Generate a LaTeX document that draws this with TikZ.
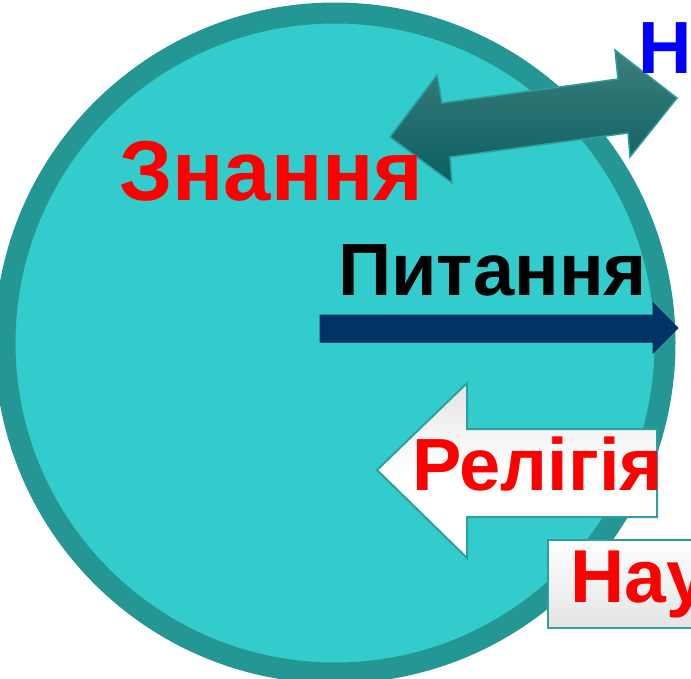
\documentclass[tikz,border=0pt]{standalone}
\usepackage{fontspec}
\setmainfont{Liberation Sans}
\definecolor{disc}{HTML}{33CCCC}
\definecolor{ring}{HTML}{249693}
\definecolor{arrowedge}{HTML}{2E9E9E}
\definecolor{darktealtop}{HTML}{3C7E7E}
\definecolor{darktealbot}{HTML}{0C5F5F}
\definecolor{navy}{HTML}{003366}
\definecolor{navyedge}{HTML}{0A2A55}
\definecolor{boxgray}{HTML}{E4E4E4}
\tikzset{
  lbl/.style={inner sep=0pt, anchor=base west, font=\bfseries},
}
\begin{document}
\begin{tikzpicture}[x=1pt,y=-1pt]
\useasboundingbox (0,0) rectangle (691,678);
\clip (0,0) rectangle (691,678);
% main disc
\fill[disc] (335,343) circle[radius=330];
\draw[ring, line width=21pt] (335,343) circle[radius=330];
% double arrow
\draw[arrowedge, line width=1.5pt, line join=miter, top color=darktealtop, bottom color=darktealbot]
  (390,137) -- (437,75) -- (442,103) -- (618,79) -- (615,50) -- (677,98)
  -- (630,157) -- (628,133) -- (450,157) -- (452,183) -- cycle;
% texts
\node[lbl, text=red, font=\fontsize{85}{85}\selectfont\bfseries] (znannya) at (119,200) {Знання};
\node[lbl, text=blue, font=\fontsize{74}{74}\selectfont\bfseries] (nh) at (638,73) {Н};
\node[lbl, text=black, font=\fontsize{74}{74}\selectfont\bfseries] (pytannya) at (338,295) {Питання};
% navy arrow
\draw[navyedge, fill=navy, line width=1pt]
  (320,315) -- (653,315) -- (653,303) -- (678,328) -- (653,353) -- (653,342) -- (320,342) -- cycle;
% religion arrow
\draw[draw=arrowedge, line width=2pt, top color=boxgray, bottom color=white, middle color=white]
  (377,470) -- (467,383) -- (467,429) -- (657,429) -- (657,517) -- (467,517) -- (467,558) -- cycle;
\node[lbl, text=red, font=\fontsize{74}{74}\selectfont\bfseries] (religiya) at (412,490) {Релігія};
% science box
\draw[draw=arrowedge, line width=2pt, top color=white, bottom color=boxgray] (548,540) rectangle (700,628);
\node[lbl, text=red, font=\fontsize{75}{75}\selectfont\bfseries] (nauka) at (570,602) {Наука};
\end{tikzpicture}
\end{document}
